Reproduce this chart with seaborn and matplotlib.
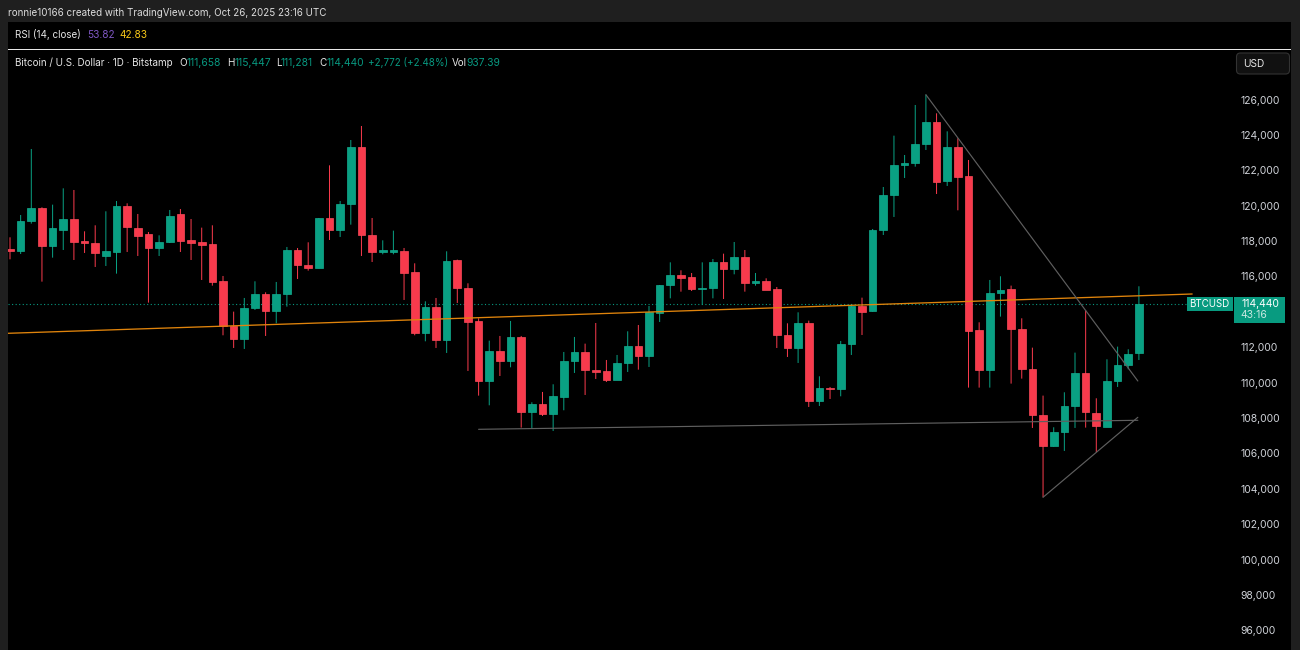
import numpy as np
import pandas as pd
import matplotlib
matplotlib.use("Agg")
import matplotlib.pyplot as plt
from matplotlib.patches import Rectangle, FancyBboxPatch
import seaborn as sns

# daily candles: open, high, low, close
opens = [117555,117442,119118,119852,117743,118647,119249,118007,117913,117178,117385,119984,118760,118383,117611,117931,119513,118044,117931,117837,
         115728,113186,112471,114203,115013,114071,115013,117498,116651,116463,119306,118647,120078,123317,118364,117385,117385,117442,116274,112828,
         114278,112433,116915,115333,113469,110098,111793,111228,112565,108328,108799,108253,109213,111228,111735,110737,110662,110153,111095,112055,
         111509,113957,115501,116085,115953,115294,115332,116819,116424,117102,115652,115746,115275,112695,111961,113355,108967,109701,109626,112187,
         114353,114034,118647,120587,122300,122432,123505,124710,121396,123317,121660,112961,110739,115051,115277,113036,110757,108159,106445,107198,
         108667,110550,108272,107518,110098,111021,111658]
highs = [118214,119475,123204,119909,120059,120982,120888,118553,118892,119683,120266,120134,119532,118515,118327,119758,119814,119249,118760,118892,
         116030,114015,114787,115728,115107,115691,117668,117611,117931,119306,122281,120266,123712,124503,119306,118044,118590,117611,116745,114598,
         114787,117423,116952,115615,113638,112376,112640,113487,112640,108893,109477,109910,111736,112584,112206,113373,111283,111566,112903,113260,
         114334,115520,116800,116349,116198,116800,116989,117290,117949,117497,116198,115897,115407,113355,113976,113505,110361,109758,112357,114447,
         114804,118685,121057,123957,122865,125690,126273,125219,124202,123807,122583,113412,115804,116011,115484,113638,111980,109270,107481,109458,
         111699,114090,109119,111322,112038,111888,115447]
lows = [116971,117272,118986,115709,117065,117498,116933,117329,116538,116594,116161,117385,117159,114523,117159,117894,117385,116933,115804,115483,
        112678,111962,111906,114109,112640,113356,114297,115860,116331,116463,118063,118233,118929,117159,116820,117254,117254,114674,112678,112339,
        111962,111680,114504,110663,109269,108723,110380,110870,107462,107387,108121,107273,108441,110550,109306,110210,110040,110153,110605,110737,
        110888,113430,114767,115143,115181,114409,114767,114729,116123,115143,115482,115238,111961,111453,111114,108628,108685,109080,109231,111566,
        112695,114015,118346,119363,121566,122206,123148,120662,121114,119739,109722,109722,109722,113733,109948,110230,107443,103527,106389,106144,
        107443,107462,106069,107518,109760,110757,111281]
closes = [117442,119136,119852,117743,118722,119249,117969,117894,117310,117423,119984,118779,118308,117592,117950,119419,118007,117894,117799,115709,
          113186,112471,114203,115013,114071,115013,117498,116651,116463,119306,118647,120097,123317,118364,117385,117479,117479,116218,112828,114278,
          112433,116877,115333,113450,110098,111793,111228,112565,108328,108799,108253,109232,111228,111736,110718,110606,110153,111095,112055,111509,
          113976,115520,116066,115915,115294,115351,116819,116424,117102,115652,115746,115238,112677,111961,113355,108967,109683,109645,112187,114353,
          114014,118628,120587,122281,122413,123487,124710,121359,123317,121641,112942,110739,115051,115239,113036,110776,108159,106445,107198,108667,
          110550,108328,107575,110080,111021,111642,114440]

price_ticks = [96000,98000,100000,102000,104000,106000,108000,110000,112000,116000,118000,120000,122000,124000,126000]
last_price = 114440

# trendlines: bar index and price at each end
orange_idx = [-0.2, 111.0]
orange_px = [112790, 115011]
base_idx = [44, 105.9]
base_px = [107366, 107875]
down_idx = [86, 105.9]
down_px = [126271, 110096]
up_idx = [97, 105.9]
up_px = [103525, 108044]

title_text = "ronnie10166 created with TradingView.com, Oct 26, 2025 23:16 UTC"
pair_text = "Bitcoin / U.S. Dollar · 1D · Bitstamp"
rsi_text = "RSI (14, close)"
rsi_values = ["53.82", "42.83"]
ohlc_letters = ["O", "H", "L", "C"]
ohlc_values = ["111,658", "115,447", "111,281", "114,440"]
change_text = "+2,772 (+2.48%)"
vol_value = "937.39"

GREEN = "#09a083"
RED = "#f83a4c"
TEAL_TXT = "#089981"

W, H = 1300, 650
sns.set_theme(style="dark", rc={"axes.grid": False})
plt.rcParams["font.family"] = ["Inter", "DejaVu Sans"]

fig = plt.figure(figsize=(W / 100, H / 100), dpi=100, facecolor="#1f1f1f")
L, R, T, B = 8, 1291, 22, 650
# black panel (RSI + price)
fig.add_artist(Rectangle((L / W, 1 - B / H), (R - L) / W, (B - T) / H, transform=fig.transFigure,
                         facecolor="black", edgecolor="none", zorder=0))
ax = fig.add_axes([L / W, 0, (R - L) / W, 1 - 50 / H])
ax.set_facecolor("black")
for s in ax.spines.values():
    s.set_visible(False)

df = pd.DataFrame({"i": np.arange(len(opens)), "o": opens, "h": highs, "l": lows, "c": closes})
df["up"] = df.c >= df.o
df["bottom"] = df[["o", "c"]].min(axis=1)
df["height"] = (df.c - df.o).abs()
df["wick"] = df.up.map({True: GREEN, False: RED})

ax.vlines(df.i, df.l, df.h, colors=df.wick, linewidth=0.72, zorder=2, snap=False)
for up, col, edge in [(True, GREEN, "#13ad90"), (False, RED, "#fb4a5b")]:
    sub = df[df.up == up]
    sns.barplot(x=sub.i.values, y=sub.height.values, bottom=sub.bottom.values, native_scale=True,
                errorbar=None, color=col, saturation=1, width=0.72, ax=ax, zorder=3,
                edgecolor=edge, linewidth=0.5)

ax.axhline(last_price, xmin=0, xmax=(1186 - L) / (R - L), color=TEAL_TXT, lw=0.8, ls=(0, (1, 2.2)), zorder=1)
sns.lineplot(x=orange_idx, y=orange_px, color="#e0840c", lw=0.95, ax=ax, zorder=4, errorbar=None, sort=False)
for xs, ys in [(base_idx, base_px), (down_idx, down_px), (up_idx, up_px)]:
    sns.lineplot(x=xs, y=ys, color="#5f5f5f", lw=0.85, ax=ax, zorder=4, errorbar=None, sort=False)

# pixel-to-data scale of the reference
px_per_bar = 10.65
ax.set_xlim((L - 10) / px_per_bar, (R - 10) / px_per_bar)
ax.set_ylim(126000 - (650 - 99.5) * 56.5, 126000 + (99.5 - 50) * 56.5)
ax.set_xticks([])
ax.set_xlabel("")
ax.set_ylabel("")
ax.yaxis.tick_right()
ax.set_yticks(price_ticks)
ax.set_yticklabels([f"{v:,}" for v in price_ticks])
ax.tick_params(axis="y", length=0, pad=-36.2, labelsize=7.5, labelcolor="#cfd2d8")
for t in ax.get_yticklabels():
    t.set_zorder(6)

def txt(x, y, s, color="#e6e6e6", size=7.1, **kw):
    fig.text(x / W, 1 - y / H, s, color=color, fontsize=size, va="center", ha=kw.pop("ha", "left"), zorder=10, **kw)

txt(8, 13, title_text, color="#dcdcdc", size=7.06)
fig.add_artist(Rectangle((L / W, 1 - 49.6 / H), (R - L) / W, 1.1 / H, transform=fig.transFigure,
                         facecolor="#e8e8e8", edgecolor="none", zorder=5))
txt(15, 35, rsi_text)
txt(87, 35, rsi_values[0], color="#7e57c2", size=7.3)
txt(119, 35, rsi_values[1], color="#f5c518", size=7.3)
txt(15, 63, pair_text)
for lx, vx, a, b in zip([179.3, 226.7, 275.7, 319.3], [187, 234.3, 281, 326.7], ohlc_letters, ohlc_values):
    txt(lx, 63, a)
    txt(vx, 63, b, color=TEAL_TXT, size=7.4)
txt(368.3, 63, change_text, color=TEAL_TXT, size=7.1)
txt(452, 63, "Vol")
txt(466.7, 63, vol_value, color=TEAL_TXT, size=7.4)

# USD button
fig.add_artist(FancyBboxPatch((1236.5 / W, 1 - 74 / H), 53 / W, 21 / H, transform=fig.transFigure,
                              boxstyle="round,pad=0,rounding_size=0.003", mutation_aspect=2,
                              facecolor="#111111", edgecolor="#333333", lw=0.8, zorder=6))
txt(1243.5, 63.7, "USD", color="#e6e6e6", size=7.3)

# last-price tags
fig.add_artist(Rectangle((1187 / W, 1 - 311 / H), 46 / W, 14 / H, transform=fig.transFigure,
                         facecolor="#089b80", edgecolor="none", zorder=7))
fig.add_artist(Rectangle((1234 / W, 1 - 322.5 / H), 50.5 / W, 25.5 / H, transform=fig.transFigure,
                         facecolor="#089b80", edgecolor="none", zorder=7))
txt(1189.5, 304.2, "BTCUSD", color="white", size=7.0)
txt(1241, 304, f"{last_price:,}", color="white", size=7.5)
txt(1240.5, 315, "43:16", color="#c9e8e1", size=7.5)

fig.savefig("out.png", dpi=100, facecolor=fig.get_facecolor())
